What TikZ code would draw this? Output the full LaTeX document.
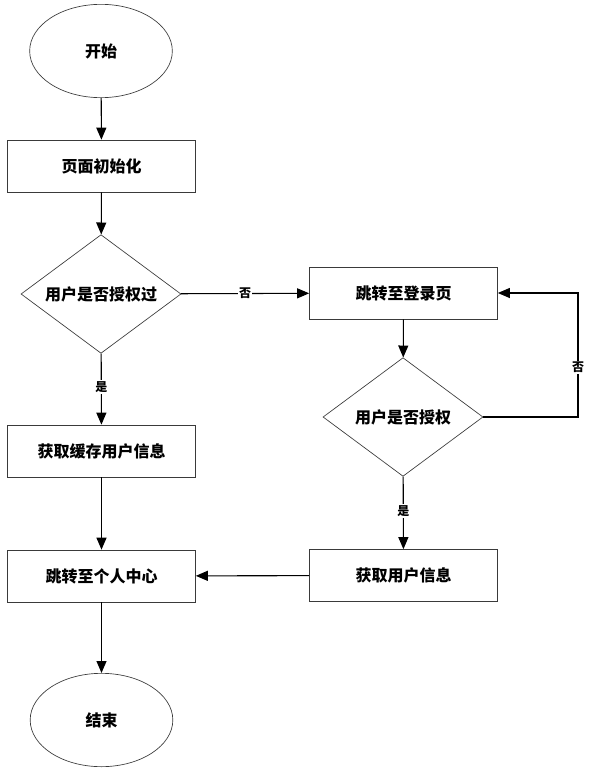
\documentclass[tikz,border=0pt]{standalone}
\usepackage{fontspec}
\setmainfont{Noto Sans CJK SC}
\usetikzlibrary{arrows.meta,shapes.geometric}
\definecolor{flowline}{HTML}{000000}
\definecolor{flowedge}{HTML}{3A3A3A}

\begin{document}
\begin{tikzpicture}[
  x=0.75pt,y=-0.75pt,
  font=\bfseries\fontsize{12}{14}\selectfont,
  term/.style={draw=flowedge,line width=0.5pt,fill=white,ellipse,minimum width=107pt,minimum height=70pt,inner sep=0pt},
  proc/.style={draw=flowedge,line width=0.5pt,fill=white,rectangle,minimum width=141pt,minimum height=39pt,inner sep=0pt},
  dec/.style={draw=flowedge,line width=0.5pt,fill=white,diamond,aspect=1.36,minimum width=120pt,minimum height=89pt,inner sep=0pt},
  fl/.style={-{Triangle[length=9pt,width=7.5pt]},draw=flowline,line width=0.8pt},
  yn/.style={fill=white,inner sep=1pt,font=\bfseries\fontsize{9}{10}\selectfont}
]
\useasboundingbox (0,0) rectangle (613,778);
\node[term] (start) at (101,51) {开始};
\node[proc] (init) at (101.5,166) {页面初始化};
\node[dec] (auth1) at (101,294) {用户是否授权过};
\node[proc] (cache) at (101.5,451) {获取缓存用户信息};
\node[proc] (center) at (101.5,576) {跳转至个人中心};
\node[term] (end) at (101.5,720) {结束};
\node[proc] (login) at (403.5,293) {跳转至登录页};
\node[dec] (auth2) at (403,417) {用户是否授权};
\node[proc] (fetch) at (403.5,575.5) {获取用户信息};
\coordinate (loop) at (578,417);

\draw[fl] (start) -- (init);
\draw[fl] (init) -- (auth1);
\draw[fl] (auth1) -- node[yn]{否} (login);
\draw[fl] (auth1) -- node[yn,pos=0.47]{是} (cache);
\draw[fl] (cache) -- (center);
\draw[fl] (center) -- (end);
\draw[fl] (login) -- (auth2);
\draw[fl] (auth2) -- node[yn,pos=0.47]{是} (fetch);
\draw[fl] (fetch) -- (center);
\draw[fl] (auth2.east) -- (loop) |- node[yn,pos=0.2]{否} (login.east);
\end{tikzpicture}
\end{document}
